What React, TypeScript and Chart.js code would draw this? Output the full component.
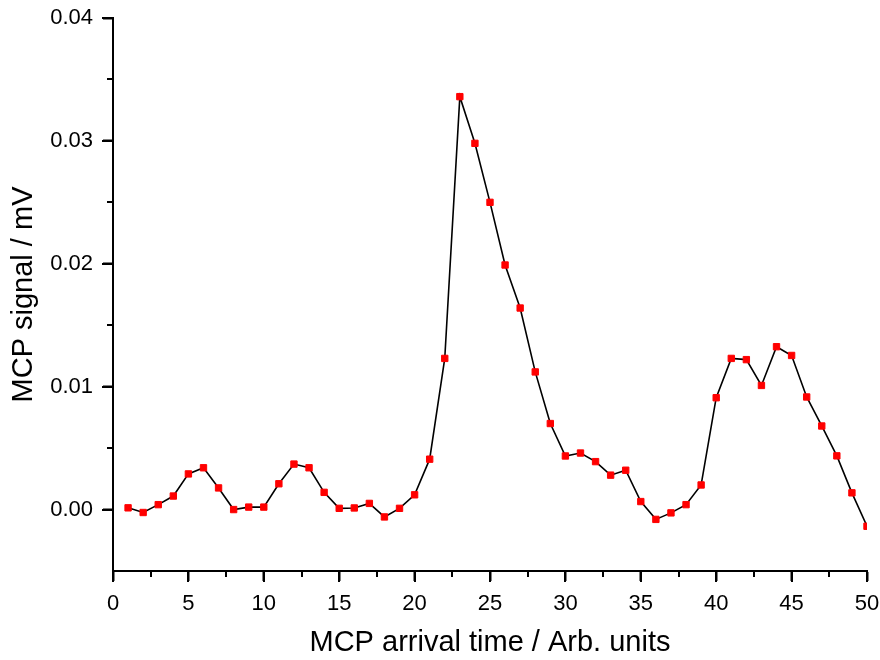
import React, { useEffect, useRef } from "react";
import { Chart, registerables } from "chart.js";

Chart.register(...registerables);

const X_VALUES = [
  1, 2, 3, 4, 5, 6, 7, 8, 9, 10, 11, 12, 13, 14, 15, 16, 17, 18, 19, 20, 21, 22, 23, 24, 25,
  26, 27, 28, 29, 30, 31, 32, 33, 34, 35, 36, 37, 38, 39, 40, 41, 42, 43, 44, 45, 46, 47, 48, 49, 50,
];
const SIGNAL = [
  0.00014, -0.00024, 0.0004, 0.0011, 0.0029, 0.0034, 0.00176, 0.0, 0.0002, 0.0002,
  0.0021, 0.0037, 0.0034, 0.0014, 0.0001, 0.00013, 0.0005, -0.0006, 0.0001, 0.0012,
  0.0041, 0.0123, 0.0336, 0.0298, 0.025, 0.0199, 0.0164, 0.0112, 0.007, 0.00436,
  0.0046, 0.0039, 0.0028, 0.0032, 0.00065, -0.0008, -0.00027, 0.0004, 0.002, 0.0091,
  0.0123, 0.0122, 0.0101, 0.01325, 0.01254, 0.00916, 0.0068, 0.00437, 0.00136, -0.00136,
];
const X_TICKS = [0, 5, 10, 15, 20, 25, 30, 35, 40, 45, 50];
const X_MINOR = [2.5, 7.5, 12.5, 17.5, 22.5, 27.5, 32.5, 37.5, 42.5, 47.5];
const Y_TICKS = [0, 0.01, 0.02, 0.03, 0.04];
const Y_MINOR = [0.005, 0.015, 0.025, 0.035];

const FONT = "'Liberation Sans', Arial, sans-serif";

const axisTicks = {
  id: "axisTicks",
  afterDraw(chart: any) {
    const ctx = chart.ctx;
    const xs = chart.scales.x;
    const ys = chart.scales.y;
    const area = chart.chartArea;
    ctx.save();
    ctx.strokeStyle = "#000";
    ctx.lineWidth = 2;
    ctx.lineCap = "butt";
    ctx.beginPath();
    const xt = (v: number, len: number) => {
      const px = Math.round(xs.getPixelForValue(v));
      ctx.moveTo(px, area.bottom);
      ctx.lineTo(px, area.bottom + len);
    };
    const yt = (v: number, len: number) => {
      const py = Math.round(ys.getPixelForValue(v));
      ctx.moveTo(area.left, py);
      ctx.lineTo(area.left - len, py);
    };
    X_TICKS.forEach((v) => xt(v, 11));
    X_MINOR.forEach((v) => xt(v, 6));
    Y_TICKS.forEach((v) => yt(v, 11));
    Y_MINOR.forEach((v) => yt(v, 6));
    ctx.stroke();
    ctx.restore();
  },
};

export default function App() {
  const ref = useRef<HTMLCanvasElement | null>(null);
  useEffect(() => {
    if (!ref.current) return;
    const chart = new Chart(ref.current, {
      type: "line",
      data: {
        datasets: [
          {
            data: X_VALUES.map((x, i) => ({ x, y: SIGNAL[i] })),
            borderColor: "#000",
            borderWidth: 1.6,
            backgroundColor: "#ff0000",
            pointStyle: "rect",
            pointRadius: 4.5,
            pointBorderWidth: 1,
            pointBorderColor: "#ff0000",
            pointBackgroundColor: "#ff0000",
            tension: 0,
            fill: false,
          },
        ],
      },
      options: {
        animation: false,
        responsive: false,
        maintainAspectRatio: false,
        layout: { padding: { top: 18, right: 13, left: 0, bottom: 0 } },
        plugins: { legend: { display: false }, tooltip: { enabled: false } },
        scales: {
          x: {
            type: "linear",
            min: 0,
            max: 50,
            afterBuildTicks: (s: any) => {
              s.ticks = X_TICKS.map((v) => ({ value: v }));
            },
            afterFit: (s: any) => {
              s.height = 89;
              s.paddingLeft = 0;
              s.paddingRight = 0;
            },
            grid: { drawOnChartArea: false, drawTicks: true, tickLength: 10, tickColor: "#000", tickWidth: 2 },
            border: { display: true, color: "#000", width: 2 },
            ticks: {
              color: "#000",
              font: { family: FONT, size: 22 },
              padding: 10,
              maxRotation: 0,
              autoSkip: false,
              callback: (v: any) => String(v),
            },
            title: {
              display: true,
              text: "MCP arrival time / Arb. units",
              color: "#000",
              font: { family: FONT, size: 29 },
              padding: { top: 0, bottom: 0 },
            },
          },
          y: {
            type: "linear",
            min: -0.005,
            max: 0.04,
            afterBuildTicks: (s: any) => {
              s.ticks = Y_TICKS.map((v) => ({ value: v }));
            },
            afterFit: (s: any) => {
              s.width = 113;
              s.paddingTop = 0;
              s.paddingBottom = 0;
            },
            grid: { drawOnChartArea: false, drawTicks: true, tickLength: 10, tickColor: "#000", tickWidth: 2 },
            border: { display: true, color: "#000", width: 2 },
            ticks: {
              color: "#000",
              font: { family: FONT, size: 22 },
              padding: 10,
              autoSkip: false,
              callback: (v: any) => Number(v).toFixed(2),
            },
            title: {
              display: true,
              text: "MCP signal / mV",
              color: "#000",
              font: { family: FONT, size: 29 },
              padding: { top: 7, bottom: 0 },
            },
          },
        },
      },
      plugins: [axisTicks],
    });
    return () => chart.destroy();
  }, []);
  return (
    <div style={{ position: "fixed", left: 0, top: 0, width: 880, height: 660, background: "#fff" }}>
      <canvas ref={ref} width={880} height={660} />
    </div>
  );
}
